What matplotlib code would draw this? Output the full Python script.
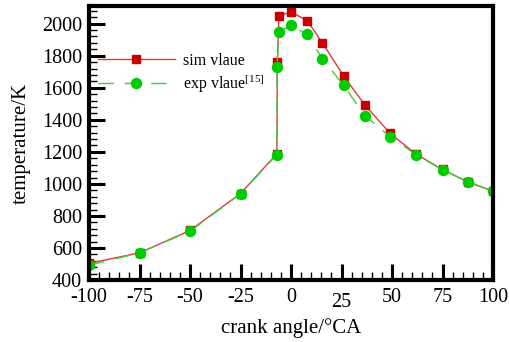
import matplotlib
matplotlib.use("Agg")
import matplotlib.pyplot as plt
from matplotlib.ticker import MultipleLocator

plt.rcParams["font.family"] = ["Liberation Serif", "DejaVu Serif"]
plt.rcParams["mathtext.fontset"] = "custom"
plt.rcParams["mathtext.rm"] = "Liberation Serif"
plt.rcParams["axes.unicode_minus"] = False

# crank angle (deg CA) and temperature (K)
sim_angle = [-100, -75, -50, -25, -7, -6.8, -6, 0, 8, 15.5, 26, 36.5, 49, 62, 75, 87.5, 100]
sim_temp = [505, 570, 710, 940, 1188, 1760, 2047, 2074, 2018, 1881, 1674, 1493, 1316, 1185, 1090, 1012, 955]

exp_angle = [-100, -75, -50, -25, -7, -6.9, -6, 0, 8, 15.5, 26, 36.5, 49, 62, 75, 87.5, 100]
exp_temp = [493, 570, 705, 938, 1183, 1731, 1950, 1989, 1933, 1781, 1616, 1426, 1295, 1181, 1088, 1014, 956]

x_ticks = [-100, -75, -50, -25, 0, 25, 50, 75, 100]
y_ticks = [400, 600, 800, 1000, 1200, 1400, 1600, 1800, 2000]

fig = plt.figure(figsize=(5.09, 3.42), dpi=100)
ax = fig.add_axes([0.175, 0.181, 0.7936, 0.8015])

ax.plot(sim_angle, sim_temp, color="#e03a3a", lw=1.0, marker="s", ms=5.8,
        mfc="#cc0000", mec="#cc0000", label="sim vlaue")
ax.plot(exp_angle, exp_temp, color="#3ad03a", lw=1.0, ls=(0, (11, 8)), marker="o", ms=7.2,
        mfc="#00cc00", mec="#00cc00", label=r"exp vlaue$^{\mathrm{[15]}}$")

ax.set_xlim(-100, 100)
ax.set_ylim(400, 2110)
ax.set_xticks(x_ticks)
ax.set_yticks(y_ticks)
ax.xaxis.set_minor_locator(MultipleLocator(5))
ax.yaxis.set_minor_locator(MultipleLocator(40))
ax.tick_params(which="both", direction="in", top=False, right=False, labelsize=14.5)
ax.tick_params(which="major", length=11.5, width=2.2)
ax.tick_params(which="minor", length=6, width=1.0)
ax.tick_params(axis="x", pad=5.5)
ax.tick_params(axis="y", pad=5)
# the "25" label sits a bit lower in the original
ax.xaxis.get_major_ticks()[5].set_pad(9.5)

for sp in ax.spines.values():
    sp.set_linewidth(3)

ax.set_xlabel("crank angle/°CA", fontsize=15, labelpad=4)
ax.set_ylabel("temperature/K", fontsize=15, labelpad=8)

ax.legend(loc="center left", bbox_to_anchor=(0.022, 0.752), frameon=False, fontsize=11.5,
          handlelength=4.8, handletextpad=0.55, labelspacing=0.2, borderpad=0, borderaxespad=0)

fig.savefig("out.png", dpi=100)
